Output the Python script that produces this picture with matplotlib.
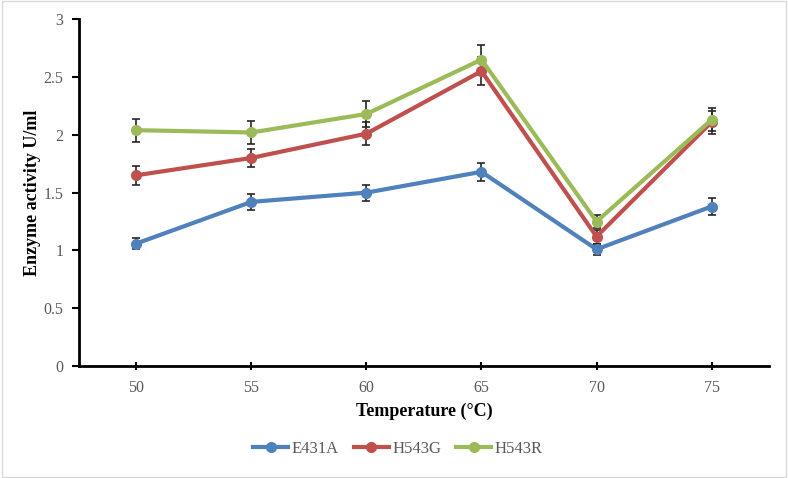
import numpy as np
import matplotlib.pyplot as plt
from matplotlib.lines import Line2D
from matplotlib.patches import Rectangle

temps = ["50", "55", "60", "65", "70", "75"]

e431a = [1.06, 1.42, 1.50, 1.68, 1.01, 1.38]
e431a_err = [0.05, 0.07, 0.07, 0.08, 0.05, 0.07]

h543g = [1.65, 1.80, 2.01, 2.55, 1.12, 2.11]
h543g_err = [0.08, 0.08, 0.10, 0.12, 0.06, 0.10]

h543r = [2.04, 2.02, 2.18, 2.65, 1.25, 2.13]
h543r_err = [0.10, 0.10, 0.11, 0.13, 0.06, 0.10]

plt.rcParams['font.family'] = ['Liberation Serif', 'DejaVu Serif']

fig = plt.figure(figsize=(7.88, 4.78), dpi=100)
ax = fig.add_axes([0.1, 0.234, 0.876, 0.726])

x = np.arange(len(temps))
series = [("E431A", e431a, e431a_err, "#4F81BD"),
          ("H543G", h543g, h543g_err, "#C0504D"),
          ("H543R", h543r, h543r_err, "#9BBB59")]

handles = []
for name, vals, err, col in series:
    ax.errorbar(x, vals, yerr=err, color=col, lw=3, marker='o', ms=7,
                ecolor='#262626', elinewidth=1.2, capsize=3, capthick=1.2)
    handles.append(Line2D([], [], color=col, lw=3, marker='o', ms=7, label=name))

ax.set_xlim(-0.5, 5.5)
ax.set_ylim(0, 3)
ax.set_xticks(x)
ax.set_xticklabels(temps)
ax.set_yticks([0, 0.5, 1, 1.5, 2, 2.5, 3])
ax.set_yticklabels(["0", "0.5", "1", "1.5", "2", "2.5", "3"])
ax.tick_params(labelcolor='#595959', labelsize=11.5, color='black', width=1.5)
ax.tick_params(axis='x', direction='inout', length=6, pad=7)
ax.tick_params(axis='y', direction='out', length=5, pad=6)

for s in ['top', 'right']:
    ax.spines[s].set_visible(False)
for s in ['left', 'bottom']:
    ax.spines[s].set_linewidth(2)
    ax.spines[s].set_color('black')

ax.set_xlabel("Temperature (°C)", fontsize=13, fontweight='bold', labelpad=5)
ax.set_ylabel("Enzyme activity U/ml", fontsize=13, fontweight='bold', labelpad=2)

leg = fig.legend(handles=handles, loc='center', bbox_to_anchor=(0.505, 0.06), ncol=3,
                 frameon=False, fontsize=12, handlelength=2.1, columnspacing=0.9,
                 handletextpad=0.2)
for t in leg.get_texts():
    t.set_color('#595959')

fig.patches.append(Rectangle((0.002, 0.002), 0.996, 0.996, transform=fig.transFigure,
                             fill=False, edgecolor='#D9D9D9', lw=1))

fig.savefig("out.png", dpi=100)
